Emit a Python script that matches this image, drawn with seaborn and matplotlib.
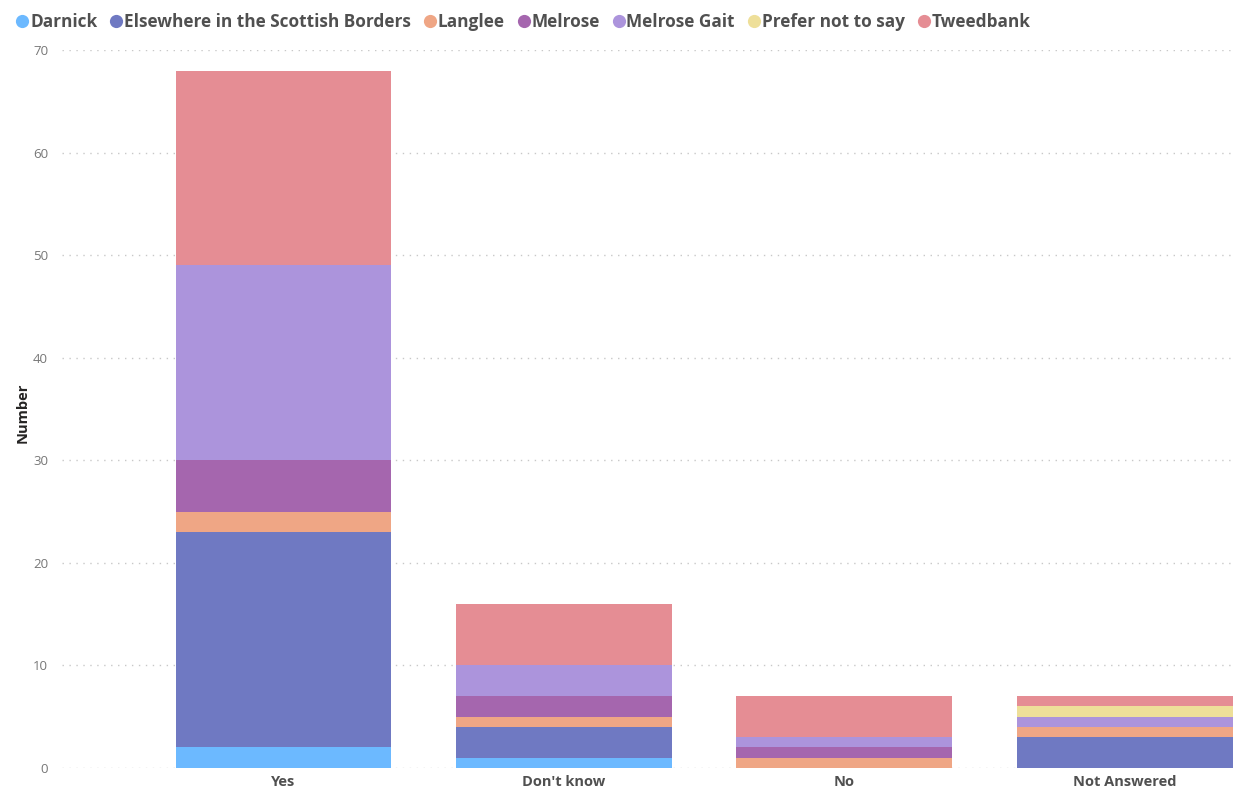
import matplotlib
matplotlib.use("Agg")
import matplotlib.pyplot as plt
from matplotlib.lines import Line2D
import numpy as np
import pandas as pd
import seaborn as sns

responses = ["Yes", "Don't know", "No", "Not Answered"]
areas = ["Darnick", "Elsewhere in the Scottish Borders", "Langlee", "Melrose",
         "Melrose Gait", "Prefer not to say", "Tweedbank"]

darnick = [2, 1, 0, 0]
elsewhere = [21, 3, 0, 3]
langlee = [2, 1, 1, 1]
melrose = [5, 2, 1, 0]
melrose_gait = [19, 3, 1, 1]
prefer_not = [0, 0, 0, 1]
tweedbank = [19, 6, 4, 1]

area_colors = ["#6CB9FF", "#6F79C2", "#EFA685", "#A566AE",
               "#AC94DC", "#EEDF99", "#E58D94"]

series = [darnick, elsewhere, langlee, melrose, melrose_gait, prefer_not, tweedbank]
df = pd.DataFrame(
    [(r, a, v[i]) for a, v in zip(areas, series) for i, r in enumerate(responses)],
    columns=["Response", "Area", "Number"],
)

sns.set_theme(style="white")
plt.rcParams["font.family"] = ["Open Sans", "DejaVu Sans"]

fig = plt.figure(figsize=(12.34, 7.94), dpi=100)
ax = fig.add_axes([62 / 1234, 1 - 768 / 794, 1 - 62 / 1234, (768 - 50) / 794])

bottom = np.zeros(len(responses))
for area, color in zip(areas, area_colors):
    sub = df[df["Area"] == area].set_index("Response").loc[responses].reset_index()
    sns.barplot(data=sub, x="Response", y="Number", order=responses, color=color,
                bottom=bottom, width=0.77, ax=ax, saturation=1,
                edgecolor="none", linewidth=0)
    bottom = bottom + sub["Number"].to_numpy()

ax.set_xlim(-0.79, 3.39)
ax.set_ylim(0, 70)
ax.set_yticks(range(0, 71, 10))
ax.yaxis.grid(True, linestyle=(0, (1, 4)), color="#C8C8C8", linewidth=1)
ax.set_axisbelow(True)
for s in ax.spines.values():
    s.set_visible(False)
ax.tick_params(axis="y", length=0, pad=10, labelsize=9.5, labelcolor="#777777")
ax.tick_params(axis="x", length=0, pad=5, labelsize=10.5, labelcolor="#505050")
for lab in ax.get_xticklabels():
    lab.set_fontweight("bold")
ax.set_xlabel("")
ax.set_ylabel("Number", fontsize=10.5, fontweight="bold", color="#252423")
ax.yaxis.set_label_coords(-0.028, 0.495)

handles = [Line2D([0], [0], marker="o", linestyle="none", markersize=9.5,
                  markerfacecolor=c, markeredgecolor="none") for c in area_colors]
leg = fig.legend(handles, areas, loc="center left", bbox_to_anchor=(0.0, 1 - 22 / 794),
                 ncol=len(areas), frameon=False, handletextpad=-0.15,
                 columnspacing=0.5, handlelength=1.2, borderaxespad=0.3,
                 prop={"size": 12.4, "weight": "bold"})
for t in leg.get_texts():
    t.set_color("#505050")

fig.savefig("out.png", dpi=100, facecolor="white")
